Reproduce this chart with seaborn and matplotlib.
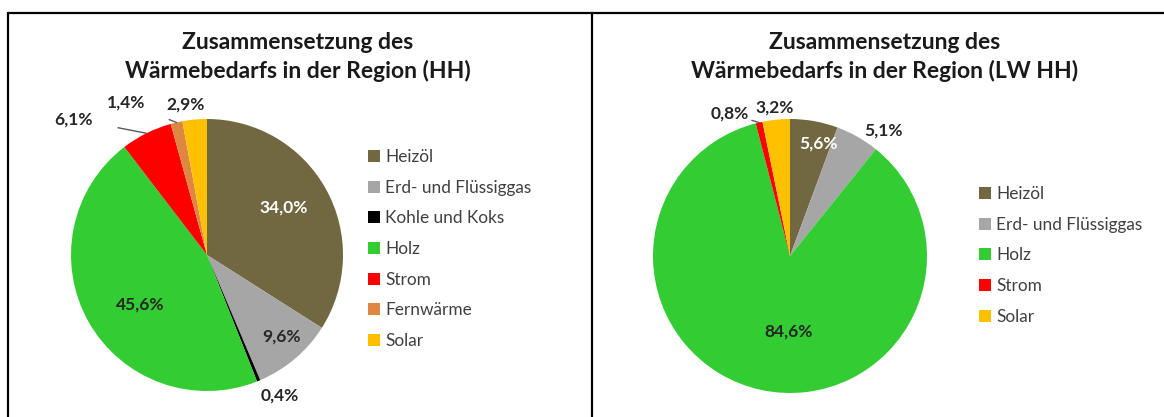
import numpy as np
import matplotlib.pyplot as plt
from matplotlib.lines import Line2D
import seaborn as sns

# data
hh_labels = ["Heizöl", "Erd- und Flüssiggas", "Kohle und Koks", "Holz", "Strom", "Fernwärme", "Solar"]
hh_values = [34.0, 9.6, 0.4, 45.6, 6.1, 1.4, 2.9]
lw_labels = ["Heizöl", "Erd- und Flüssiggas", "Holz", "Strom", "Solar"]
lw_values = [5.6, 5.1, 84.6, 0.8, 3.2]

colors = {
    "Heizöl": "#716741",
    "Erd- und Flüssiggas": "#a6a6a6",
    "Kohle und Koks": "#000000",
    "Holz": "#33cc33",
    "Strom": "#ff0000",
    "Fernwärme": "#dd8740",
    "Solar": "#ffc000",
}

sns.set_theme(style="white")
plt.rcParams["font.family"] = ["Lato", "DejaVu Sans"]

W, H = 1164, 417
fig = plt.figure(figsize=(W / 100, H / 100), dpi=100)

# label placement per slice: (radius factor, angle shift deg, text colour, leader line)
hh_lbl = {
    "Heizöl": (0.66, 3, "white", False),
    "Erd- und Flüssiggas": (0.81, 2, "#262626", False),
    "Kohle und Koks": (1.16, 5, "#262626", False),
    "Holz": (0.61, 7, "#262626", False),
    "Strom": (1.40, 18, "#262626", True),
    "Fernwärme": (1.27, 15, "#262626", True),
    "Solar": (1.12, 3, "#262626", False),
}
lw_lbl = {
    "Heizöl": (0.85, -4, "white", False),
    "Erd- und Flüssiggas": (1.14, -7, "#262626", False),
    "Holz": (0.55, 11, "#262626", False),
    "Strom": (1.13, 10, "#262626", True),
    "Solar": (1.09, 0, "#262626", False),
}


def px_axes(cx, cy, r):
    return fig.add_axes([(cx - r) / W, 1 - (cy + r) / H, 2 * r / W, 2 * r / H])


def draw_panel(cx, cy, r, labels, values, lbl, title, title_x, leg_x, leg_y):
    ax = px_axes(cx, cy, r)
    wedges, _ = ax.pie(values, colors=[colors[l] for l in labels], startangle=90,
                       counterclock=False, wedgeprops=dict(linewidth=0))
    ax.set_xlim(-1, 1)
    ax.set_ylim(-1, 1)
    ax.axis("off")
    total = sum(values)
    start = 0.0
    for lab, v in zip(labels, values):
        mid = 90 - (start + v / 2) / total * 360
        start += v
        rf, shift, col, leader = lbl[lab]
        a = np.deg2rad(mid + shift)
        tx, ty = rf * np.cos(a), rf * np.sin(a)
        txt = f"{v:.1f}%".replace(".", ",")
        if leader:
            am = np.deg2rad(mid)
            ax.annotate(txt, xy=(np.cos(am), np.sin(am)), xytext=(tx, ty),
                        ha="center", va="center", fontsize=12.5, fontweight="bold", color=col,
                        arrowprops=dict(arrowstyle="-", color="#595959", lw=1,
                                        shrinkA=16, shrinkB=0))
        else:
            ax.text(tx, ty, txt, ha="center", va="center", fontsize=12.5,
                    fontweight="bold", color=col)
    fig.text(title_x / W, 1 - 57 / H, title,
             ha="center", va="center", fontsize=16.5, fontweight="bold", color="#1a1a1a",
             linespacing=1.4)
    fig.legend(wedges, labels, loc="upper left", bbox_to_anchor=(leg_x / W, 1 - leg_y / H),
               frameon=False, fontsize=12.4, handlelength=0.7, handleheight=0.7,
               handletextpad=0.3, labelspacing=0.85, labelcolor="#404040",
               borderaxespad=0, borderpad=0)


draw_panel(207, 255, 136, hh_labels, hh_values, hh_lbl,
           "Zusammensetzung des\nWärmebedarfs in der Region (HH)", 298, 368, 149)
draw_panel(790, 256, 137, lw_labels, lw_values, lw_lbl,
           "Zusammensetzung des\nWärmebedarfs in der Region (LW HH)", 885, 979, 186)

# panel frames
for x0, x1, y0, y1 in [(8, W, 13, 13), (8, 8, 13, H), (592, 592, 13, H)]:
    fig.add_artist(Line2D([x0 / W, x1 / W], [1 - y0 / H, 1 - y1 / H],
                          color="black", lw=1.6, transform=fig.transFigure))

fig.savefig("out.png", dpi=100, facecolor="white")
